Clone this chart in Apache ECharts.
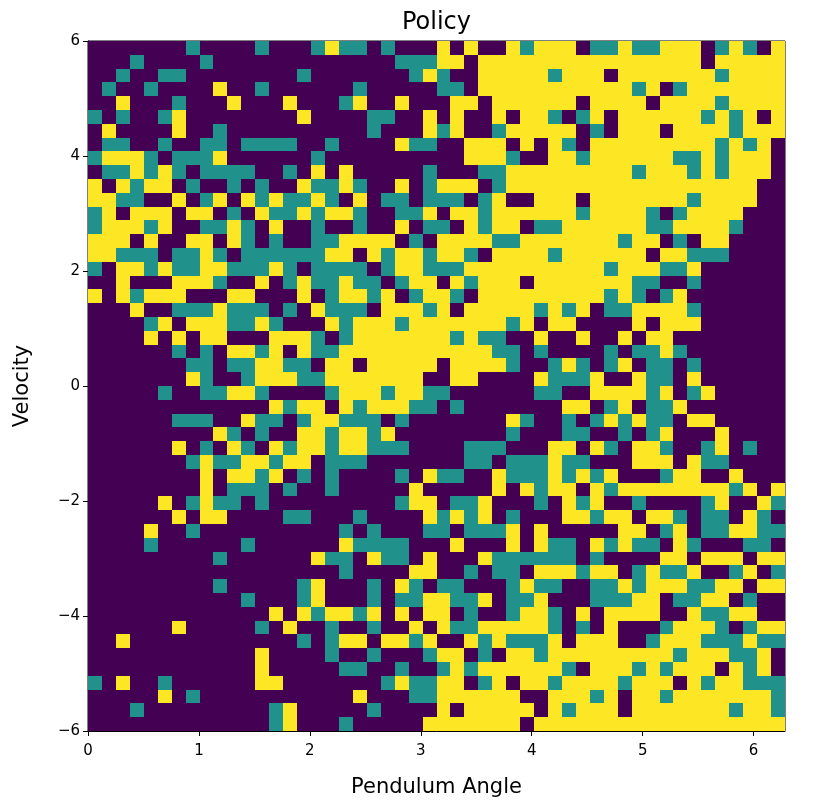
<!DOCTYPE html>
<html>
<head>
<meta charset="utf-8">
<style>html,body{margin:0;padding:0;background:#fff}#c{width:821px;height:803px}</style>
<script src="https://cdn.jsdelivr.net/npm/echarts@6/dist/echarts.min.js"></script>
</head>
<body>
<div id="c"></div>
<script>
// Action chosen per cell, rows top (velocity +6) to bottom (velocity -6).
// Columns 0-16
const policyLeft = ["00000001000010001","00010000100000000","00100110000000010","01001000020010000","00200010002000200","10100120000000020","02000020010000000","01100100110111100","12221011120000001","01121210111100102","20212201001010021","22110020120212112","12022202201021121","12221200112102001","22202002202101001","22111011210111111","10221211221112101","00200022210020121","20212220002200020","00020011121110102","00001202221121000","00002020220002221","00000010102212021","00000001101122110","00000002100122211","00000100112210000","00000000000002122","00000011100211012","00000000021010022","00000020102102122","00000001211221220","00000000202212010","00000000201110100","00000201211010000","00000020220000110","00002001000000000","00001000000100000","00000000010000002","00000000000000000","00000000010000012","00000000000100012","00000000000002021","00000020000010200","00200000000000010","00000000000020000","00000000000020000","10200100000022000","00000201000000000","00010000000001200","00000000000001200"];
// Columns 17-33
const policyMiddle = ["21101000202002122","00000111220222222","00000012100222221","00100000110222222","01200200022022222","00011002020020221","00010002120012222","10000211002220202","00000000002221002","02000001000112222","12100201222012222","10201101110120022","22100112022122222","00100201102122011","12222010222211222","22021221221022221","11101221112222222","12110122021222022","12212012210222222","11102221202222212","21222122222221202","01222222212110020","12222222222211010","22022222022221001","22222220022000021","12221221100000011","02122211010000000","21110100000002100","12212000000001000","12211100001110002","11100000001101112","10000102110021112","10000020000020212","00000122011200010","00100002121201000","01010001101112020","02111100020002021","11021102000211111","01000022001011022","00010210110001211","00010112211201120","22120202201001221","10010020211222221","12202212002121112","10010001220102212","01100100121222222","00001211220120221","00200011222222002","00010000202222202","01000002222222022"];
// Columns 34-49
const policyRight = ["2011211222012102","2222222222022222","2220222222212222","2222212012222222","2022220222212222","0120222222121202","2010222022221222","1022222222212120","2122222211212220","2222212221212220","2222222222222200","2022222221222200","2122221012222000","2222221122221000","2222122010220000","2222220221110000","2221222112000000","2222211001000000","2221210120000000","1201122221000000","2000020222000000","0200202200000000","0001011210000000","2101201101000000","1120021102000000","0022221201200000","2201201120000000","1012121102200000","1100101200020000","2021022100120100","1100022202110000","1212000122002000","2021222222221202","2120010000120021","2212202210110210","0000220120112211","1021211021000110","1010000220222022","2122012112001201","0011212221122022","0011122011220100","0202222002112200","0102000122210122","0222001222111211","2222222212221120","1022212122202120","2222122202122111","2212022122222221","1222022222221221","2222222222222222"];
const xTicks = [0,1,2,3,4,5,6];
const yTicks = [-6,-4,-2,0,2,4,6];
const actionColors = ["#440154","#21918c","#fde725"];
const angleMax = 2*Math.PI, velMin = -6, velMax = 6;

const rows = policyLeft.map((s,i)=>s+policyMiddle[i]+policyRight[i]);
const nRows = rows.length, nCols = rows[0].length;
const cells = [];
rows.forEach((s,r)=>{ for(let c=0;c<nCols;c++) cells.push([c,r,+s[c]]); });
const dx = angleMax/nCols, dy = (velMax-velMin)/nRows;

const chart = echarts.init(document.getElementById('c'),null,{renderer:'canvas'});
const font = '"DejaVu Sans", sans-serif';
const axisBase = {
  axisLine:{show:true,onZero:false,lineStyle:{color:'#000',width:1}},
  axisTick:{show:true,length:5,inside:false,lineStyle:{color:'#000',width:1}},
  splitLine:{show:false},
  nameLocation:'middle',
  nameTextStyle:{fontFamily:font,fontSize:21,color:'#000'}
};
chart.setOption({
  animation:false,
  backgroundColor:'#fff',
  title:{text:'Policy',left:431.5,top:6,textAlign:'center',textStyle:{fontFamily:font,fontSize:24,fontWeight:'normal',color:'#000'}},
  grid:{left:88,top:41,width:697,height:692,show:true,borderColor:'#000',borderWidth:1,backgroundColor:'transparent'},
  xAxis:Object.assign({},axisBase,{type:'value',min:0,max:angleMax,name:'Pendulum Angle',nameGap:46,
    axisTick:Object.assign({},axisBase.axisTick,{customValues:xTicks}),
    axisLabel:{customValues:xTicks,fontFamily:font,fontSize:15,color:'#000',margin:13,formatter:v=>String(v)}}),
  yAxis:Object.assign({},axisBase,{type:'value',min:velMin,max:velMax,name:'Velocity',nameGap:55,
    axisTick:Object.assign({},axisBase.axisTick,{customValues:yTicks}),
    axisLabel:{customValues:yTicks,fontFamily:font,fontSize:15,color:'#000',margin:8,padding:[2,0,0,0],formatter:v=>String(v).replace('-','\u2212')}}),
  series:[{
    type:'custom',
    coordinateSystem:'cartesian2d',
    clip:true,
    data:cells,
    encode:{x:0,y:1},
    renderItem:function(params,api){
      const c=api.value(0), r=api.value(1), a=api.value(2);
      const p0=api.coord([c*dx, velMax-r*dy]);
      const p1=api.coord([(c+1)*dx, velMax-(r+1)*dy]);
      const x0=Math.round(p0[0]), y0=Math.round(p0[1]), x1=Math.round(p1[0]), y1=Math.round(p1[1]);
      return {type:'rect',shape:{x:x0,y:y0,width:x1-x0,height:y1-y0},style:{fill:actionColors[a]}};
    }
  }]
});
</script>
</body>
</html>
